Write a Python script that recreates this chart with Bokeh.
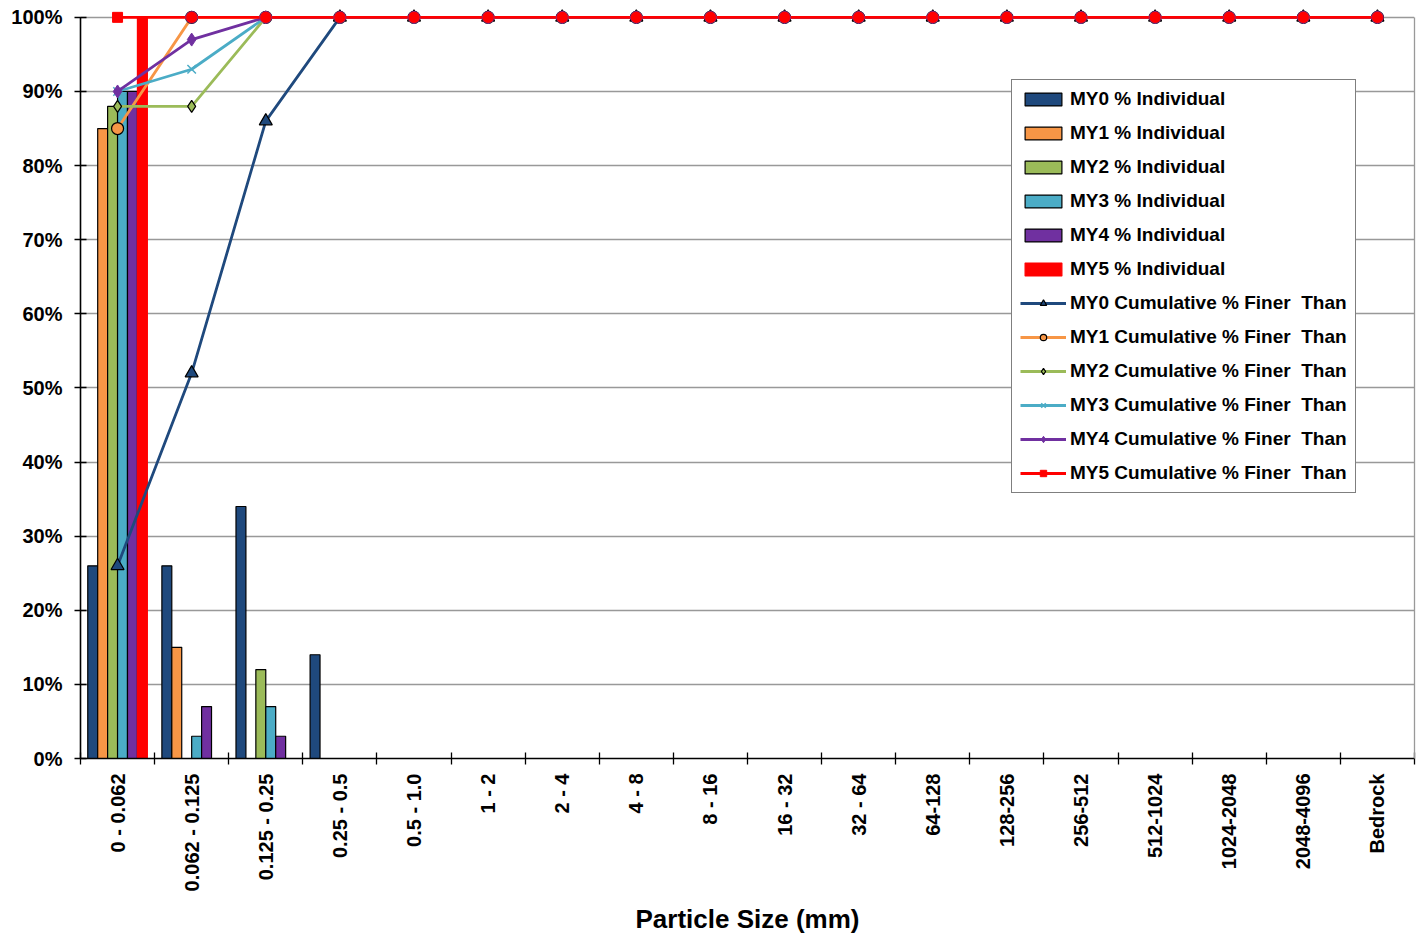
from bokeh.plotting import figure
from bokeh.models import (ColumnDataSource, FixedTicker, PrintfTickFormatter,
                          Legend, LegendItem, Range1d, LinearAxis)
from bokeh.transform import dodge
from bokeh.embed import file_html
from bokeh.resources import INLINE

categories = ["0 - 0.062", "0.062 - 0.125", "0.125 - 0.25", "0.25 - 0.5", "0.5 - 1.0",
              "1 - 2", "2 - 4", "4 - 8", "8 - 16", "16 - 32", "32 - 64", "64-128",
              "128-256", "256-512", "512-1024", "1024-2048", "2048-4096", "Bedrock"]
positions = list(range(1, len(categories) + 1))

# % Individual
my0_ind = [26, 26, 34, 14, 0, 0, 0, 0, 0, 0, 0, 0, 0, 0, 0, 0, 0, 0]
my1_ind = [85, 15, 0, 0, 0, 0, 0, 0, 0, 0, 0, 0, 0, 0, 0, 0, 0, 0]
my2_ind = [88, 0, 12, 0, 0, 0, 0, 0, 0, 0, 0, 0, 0, 0, 0, 0, 0, 0]
my3_ind = [90, 3, 7, 0, 0, 0, 0, 0, 0, 0, 0, 0, 0, 0, 0, 0, 0, 0]
my4_ind = [90, 7, 3, 0, 0, 0, 0, 0, 0, 0, 0, 0, 0, 0, 0, 0, 0, 0]
my5_ind = [100, 0, 0, 0, 0, 0, 0, 0, 0, 0, 0, 0, 0, 0, 0, 0, 0, 0]

# Cumulative % Finer Than
my0_cum = [26, 52, 86, 100, 100, 100, 100, 100, 100, 100, 100, 100, 100, 100, 100, 100, 100, 100]
my1_cum = [85, 100, 100, 100, 100, 100, 100, 100, 100, 100, 100, 100, 100, 100, 100, 100, 100, 100]
my2_cum = [88, 88, 100, 100, 100, 100, 100, 100, 100, 100, 100, 100, 100, 100, 100, 100, 100, 100]
my3_cum = [90, 93, 100, 100, 100, 100, 100, 100, 100, 100, 100, 100, 100, 100, 100, 100, 100, 100]
my4_cum = [90, 97, 100, 100, 100, 100, 100, 100, 100, 100, 100, 100, 100, 100, 100, 100, 100, 100]
my5_cum = [100, 100, 100, 100, 100, 100, 100, 100, 100, 100, 100, 100, 100, 100, 100, 100, 100, 100]

y_ticks = [0, 10, 20, 30, 40, 50, 60, 70, 80, 90, 100]

ind_series = [my0_ind, my1_ind, my2_ind, my3_ind, my4_ind, my5_ind]
cum_series = [my0_cum, my1_cum, my2_cum, my3_cum, my4_cum, my5_cum]
names = ["MY0", "MY1", "MY2", "MY3", "MY4", "MY5"]
colors = ["#1F497D", "#F79646", "#9BBB59", "#4BACC6", "#7030A0", "#FF0000"]

FONT = "Liberation Sans"

p = figure(width=1420, height=937, output_backend="svg", toolbar_location=None,
           x_range=Range1d(0.5, 18.5), y_range=Range1d(0, 101.6),
           min_border_left=80, min_border_top=5, min_border_right=6, min_border_bottom=177)
p.background_fill_color = "white"
p.border_fill_color = "white"
p.outline_line_color = None

data = {"pos": positions}
for i in range(6):
    data[f"ind{i}"] = ind_series[i]
    data[f"cum{i}"] = cum_series[i]
src = ColumnDataSource(data)

bar_w = 0.134
offsets = [-0.335, -0.201, -0.067, 0.067, 0.201, 0.335]
bar_renderers = []
for i in range(6):
    lc = "black" if i < 5 else colors[i]
    r = p.vbar(x=dodge("pos", offsets[i], range=p.x_range), top=f"ind{i}", width=bar_w,
               source=src, fill_color=colors[i], line_color=lc, line_width=1.2)
    bar_renderers.append(r)

line_items = []
marker_specs = [
    dict(marker="triangle", size=13, fill_color=colors[0], line_color="black", line_width=1.2),
    dict(marker="circle", size=12, fill_color=colors[1], line_color="black", line_width=1.2),
    dict(marker="diamond", size=12, fill_color=colors[2], line_color="black", line_width=1.2),
    dict(marker="x", size=12, fill_color=colors[3], line_color=colors[3], line_width=1.5),
    dict(marker="diamond", size=13, fill_color=colors[4], line_color=colors[4], line_width=1),
]
for i in range(6):
    lr = p.line("pos", f"cum{i}", source=src, line_color=colors[i], line_width=2.8)
    if i < 5:
        sr = p.scatter("pos", f"cum{i}", source=src, **marker_specs[i])
        line_items.append(LegendItem(label=f"{names[i]} Cumulative % Finer  Than", renderers=[lr, sr]))
    else:
        first = ColumnDataSource({"pos": positions[:1], "cum": my5_cum[:1]})
        rest = ColumnDataSource({"pos": positions[1:], "cum": my5_cum[1:]})
        sq = p.scatter("pos", "cum", source=first, marker="square", size=10,
                       fill_color=colors[5], line_color=colors[5])
        p.scatter("pos", "cum", source=rest, marker="circle", size=12,
                  fill_color=colors[5], line_color="#7030A0", line_width=0.6)
        line_items.append(LegendItem(label=f"{names[i]} Cumulative % Finer  Than", renderers=[lr, sq]))

bar_items = [LegendItem(label=f"{names[i]} % Individual", renderers=[bar_renderers[i]]) for i in range(6)]

legend = Legend(items=bar_items + line_items, location=(931, 265),
                glyph_width=46, glyph_height=16, label_height=22, spacing=12, padding=8,
                label_standoff=4, margin=0,
                label_text_font=FONT, label_text_font_style="bold", label_text_font_size="19px",
                label_text_color="black",
                border_line_color="black", border_line_width=1.3,
                background_fill_color="white", background_fill_alpha=1)
p.add_layout(legend, "center")

# axes
xa = p.xaxis[0]
xa.ticker = FixedTicker(ticks=positions, minor_ticks=[x - 0.5 for x in positions] + [positions[-1] + 0.5])
xa.major_label_overrides = {pos: cat for pos, cat in zip(positions, categories)}
xa.major_label_orientation = 3.14159265 / 2
xa.major_tick_in = 0
xa.major_tick_out = 0
xa.minor_tick_in = 6
xa.minor_tick_out = 6
xa.minor_tick_line_color = "black"
xa.minor_tick_line_width = 1.3
xa.major_label_standoff = 9
xa.major_label_text_font = FONT
xa.major_label_text_font_style = "bold"
xa.major_label_text_font_size = "20px"
xa.major_label_text_color = "black"
xa.axis_line_color = "black"
xa.axis_line_width = 1.6
xa.axis_label = "Particle Size (mm)"
xa.axis_label_text_font = FONT
xa.axis_label_text_font_style = "bold"
xa.axis_label_text_font_size = "26px"
xa.axis_label_text_color = "black"
xa.axis_label_standoff = 10

ya = p.yaxis[0]
ya.bounds = (y_ticks[0], y_ticks[-1])
ya.ticker = FixedTicker(ticks=y_ticks, minor_ticks=[])
ya.formatter = PrintfTickFormatter(format="%d%%")
ya.major_tick_in = 6
ya.major_tick_out = 6
ya.major_tick_line_color = "black"
ya.major_tick_line_width = 1.3
ya.minor_tick_in = 0
ya.minor_tick_out = 0
ya.major_label_standoff = 12
ya.major_label_text_font = FONT
ya.major_label_text_font_style = "bold"
ya.major_label_text_font_size = "20px"
ya.major_label_text_color = "black"
ya.axis_line_color = "black"
ya.axis_line_width = 1.6

# right plot-area border (grey), limited to the 0-100 band
ra = LinearAxis(bounds=(y_ticks[0], y_ticks[-1]), ticker=FixedTicker(ticks=[]),
                major_label_text_font_size="0px", major_tick_in=0, major_tick_out=0,
                minor_tick_in=0, minor_tick_out=0, axis_line_color="#999999",
                axis_line_width=1.3, major_label_standoff=0)
p.add_layout(ra, "right")

p.xgrid.grid_line_color = None
p.ygrid.ticker = FixedTicker(ticks=y_ticks[1:])
p.ygrid.grid_line_color = "#999999"
p.ygrid.grid_line_width = 1.3

open("out.html", "w").write(file_html(p, INLINE))
